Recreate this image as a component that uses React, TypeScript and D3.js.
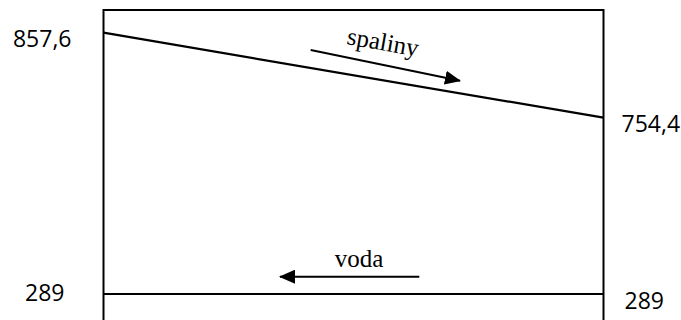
import * as d3 from 'd3'

// Gas (spaliny) and water (voda) temperatures at the two ends of the exchanger
const ENDS = ['in', 'out']
const SPALINY = [857.6, 754.4]
const VODA = [289, 289]
const FMT = (v: number) => String(v).replace('.', ',')

const W = 681
const H = 320
const NUM_FONT = '"Open Sans", sans-serif'
const TXT_FONT = '"Liberation Serif", "Times New Roman", serif'

export default function App() {
  const x = d3.scalePoint<string>().domain(ENDS).range([103.5, 603.5])
  // schematic (non-linear) temperature axis
  const y = d3.scaleLinear().domain([289, 754.4, 857.6]).range([294, 117.7, 32.7])

  const line = d3.line<number>().x((_, i) => x(ENDS[i])!).y(d => y(d))
  const x0 = x(ENDS[0])!
  const x1 = x(ENDS[1])!

  return (
    <svg width={W} height={H} style={{ position: 'absolute', left: 0, top: 0, background: '#fff' }}>
      <defs>
        <marker id="ah" viewBox="0 0 16 14" refX="15" refY="7" markerWidth="16" markerHeight="14"
          markerUnits="userSpaceOnUse" orient="auto">
          <path d="M0,0 L16,7 L0,14 Z" fill="#000" />
        </marker>
      </defs>

      {/* frame */}
      <path d={`M${x0},${H}V10H${x1}V${H}`} fill="none" stroke="#000" strokeWidth={2} />

      {/* lines */}
      <path d={line(SPALINY) || ''} fill="none" stroke="#000" strokeWidth={2.2} />
      <path d={line(VODA) || ''} fill="none" stroke="#000" strokeWidth={2} />

      {/* value labels */}
      <g fontFamily={NUM_FONT} fontSize={23} fill="#000">
        <text x={x0 - 32} y={y(SPALINY[0]) + 14} textAnchor="end">{FMT(SPALINY[0])}</text>
        <text x={x1 + 18} y={y(SPALINY[1]) + 14}>{FMT(SPALINY[1])}</text>
        <text x={x0 - 39} y={y(VODA[0]) + 7} textAnchor="end">{FMT(VODA[0])}</text>
        <text x={x1 + 21} y={y(VODA[1]) + 15}>{FMT(VODA[1])}</text>
      </g>

      {/* flow annotations */}
      <line x1={310.7} y1={50} x2={460} y2={80.7} stroke="#000" strokeWidth={2} markerEnd="url(#ah)" />
      <text x={346} y={44} fontFamily={TXT_FONT} fontSize={25} transform="rotate(10 346 44)">spaliny</text>

      <line x1={419.3} y1={276.7} x2={280} y2={276.7} stroke="#000" strokeWidth={2} markerEnd="url(#ah)" />
      <text x={359} y={267} fontFamily={TXT_FONT} fontSize={25} textAnchor="middle">voda</text>
    </svg>
  )
}
